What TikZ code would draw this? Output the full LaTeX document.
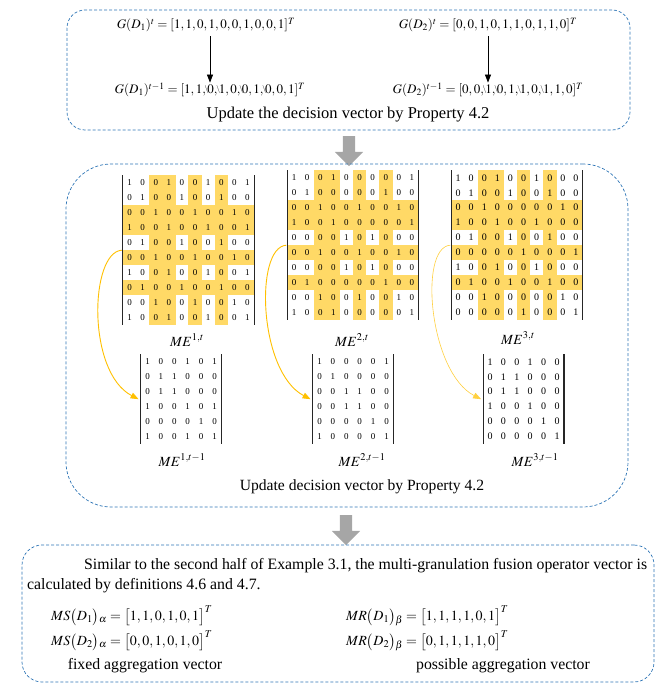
\documentclass[tikz,border=0pt]{standalone}
\usepackage{mathptmx}
\usepackage{fontspec}
\setmainfont{Liberation Serif}
\usetikzlibrary{matrix,backgrounds,arrows.meta,shapes.arrows}

\definecolor{boxblue}{RGB}{46,117,182}
\definecolor{hilite}{RGB}{255,217,102}
\definecolor{curvegold}{RGB}{255,192,0}
\definecolor{arrowgray}{RGB}{166,166,166}

% digit that changed from t to t-1
\newcommand{\chg}[1]{\makebox[0pt][l]{\kern-0.2em\raisebox{0.45ex}{$\scriptscriptstyle\backslash$}}#1}

\begin{document}
\begin{tikzpicture}[
        x=1pt, y=-1pt,
        dashbox/.style={draw=boxblue, densely dashed, line width=0.7pt},
        bodytext/.style={font=\fontsize{15.8}{20}\selectfont, inner sep=0pt},
        formula/.style={font=\fontsize{13}{15}\selectfont, inner sep=0pt},
        melabel/.style={font=\fontsize{14}{16}\selectfont, inner sep=0pt},
        bigmat/.style={matrix of nodes, inner sep=0pt, ampersand replacement=\&,
                nodes={minimum width=13.1pt, minimum height=14.9pt, inner sep=0pt,
                        font=\fontsize{9}{9}\selectfont}},
        smallmat/.style={matrix of nodes, inner sep=0pt, ampersand replacement=\&,
                nodes={minimum width=13.4pt, minimum height=14.8pt, inner sep=0pt,
                        font=\fontsize{9}{9}\selectfont}},
        bar/.style={line width=1.2pt, black!85},
        grayarrow/.style={single arrow, fill=arrowgray, draw=none, shape border rotate=270,
                minimum height=30pt, single arrow head extend=8pt, inner sep=6pt,
                single arrow head indent=0pt},
        thinarrow/.style={-{Triangle[width=6pt,length=8pt]}, line width=0.8pt},
        goldarrow/.style={curvegold, line width=0.9pt, -{Triangle[width=6pt,length=8pt]}}
    ]
    \useasboundingbox (0,0) rectangle (658,685);

    % top box
    \node[dashbox, rounded corners=18pt, minimum width=563pt, minimum height=120pt] (topbox) at (348.5,70) {};
    \node[formula] (g1t) at (206,25) {$G(D_1)^t=[1,1,0,1,0,0,1,0,0,1]^T$};
    \node[formula] (g2t) at (488,25) {$G(D_2)^t=[0,0,1,0,1,1,0,1,1,0]^T$};
    \node[formula] (g1p) at (210,90) {$G(D_1)^{t-1}=[1,1,\chg{0},\chg{1},0,\chg{0},1,\chg{0},0,1]^T$};
    \node[formula] (g2p) at (488,90) {$G(D_2)^{t-1}=[0,0,\chg{1},\chg{0},1,\chg{1},0,\chg{1},1,0]^T$};
    \draw[thinarrow, shorten <=4pt] (g1p.north |- g1t.south) -- (g1p.north);
    \draw[thinarrow, shorten <=4pt] (g2p.north |- g2t.south) -- (g2p.north);
    \node[bodytext, font=\fontsize{16.5}{20}\selectfont] (upd1) at (348,115) {Update the decision vector by Property 4.2};

    \node[grayarrow] (gap1) at (349,148) {};

    % middle box
    \node[dashbox, rounded corners=45pt, minimum width=562pt, minimum height=343pt] (midbox) at (347,335.5) {};

    \matrix (ma) [bigmat] at (188.5,250) {
        1\&0\&0\&1\&0\&0\&1\&0\&0\&1\\
        0\&1\&0\&0\&1\&0\&0\&1\&0\&0\\
        0\&0\&1\&0\&0\&1\&0\&0\&1\&0\\
        1\&0\&0\&1\&0\&0\&1\&0\&0\&1\\
        0\&1\&0\&0\&1\&0\&0\&1\&0\&0\\
        0\&0\&1\&0\&0\&1\&0\&0\&1\&0\\
        1\&0\&0\&1\&0\&0\&1\&0\&0\&1\\
        0\&1\&0\&0\&1\&0\&0\&1\&0\&0\\
        0\&0\&1\&0\&0\&1\&0\&0\&1\&0\\
        1\&0\&0\&1\&0\&0\&1\&0\&0\&1\\
    };
    \matrix (mb) [bigmat] at (353,245) {
        1\&0\&0\&1\&0\&0\&0\&0\&0\&1\\
        0\&1\&0\&0\&0\&0\&0\&1\&0\&0\\
        0\&0\&1\&0\&0\&1\&0\&0\&1\&0\\
        1\&0\&0\&1\&0\&0\&0\&0\&0\&1\\
        0\&0\&0\&0\&1\&0\&1\&0\&0\&0\\
        0\&0\&1\&0\&0\&1\&0\&0\&1\&0\\
        0\&0\&0\&0\&1\&0\&1\&0\&0\&0\\
        0\&1\&0\&0\&0\&0\&0\&1\&0\&0\\
        0\&0\&1\&0\&0\&1\&0\&0\&1\&0\\
        1\&0\&0\&1\&0\&0\&0\&0\&0\&1\\
    };
    \matrix (mc) [bigmat, nodes={font=\fontsize{10}{10}\selectfont}] at (517,245) {
        1\&0\&0\&1\&0\&0\&1\&0\&0\&0\\
        0\&1\&0\&0\&1\&0\&0\&1\&0\&0\\
        0\&0\&1\&0\&0\&0\&0\&0\&1\&0\\
        1\&0\&0\&1\&0\&0\&1\&0\&0\&0\\
        0\&1\&0\&0\&1\&0\&0\&1\&0\&0\\
        0\&0\&0\&0\&0\&1\&0\&0\&0\&1\\
        1\&0\&0\&1\&0\&0\&1\&0\&0\&0\\
        0\&1\&0\&0\&1\&0\&0\&1\&0\&0\\
        0\&0\&1\&0\&0\&0\&0\&0\&1\&0\\
        0\&0\&0\&0\&0\&1\&0\&0\&0\&1\\
    };

    % highlighted rows and columns 3,4,6,8
    \begin{scope}[on background layer]
        \foreach \m in {ma,mb,mc}{
            \foreach \k in {3,4,6,8}{
                \fill[hilite] (\m-\k-1.north west) rectangle (\m-\k-10.south east);
                \fill[hilite] (\m-1-\k.north west) rectangle (\m-10-\k.south east);
            }
        }
    \end{scope}

    \node[melabel] (la) at (187,340) {$ME^{1,t}$};
    \node[melabel] (lb) at (352,340) {$ME^{2,t}$};
    \node[melabel] (lc) at (518,338) {$ME^{3,t}$};

    \matrix (na) [smallmat] at (181,399) {
        1\&0\&0\&1\&0\&1\\
        0\&1\&1\&0\&0\&0\\
        0\&1\&1\&0\&0\&0\\
        1\&0\&0\&1\&0\&1\\
        0\&0\&0\&0\&1\&0\\
        1\&0\&0\&1\&0\&1\\
    };
    \matrix (nb) [smallmat] at (353,399) {
        1\&0\&0\&0\&0\&1\\
        0\&1\&0\&0\&0\&0\\
        0\&0\&1\&1\&0\&0\\
        0\&0\&1\&1\&0\&0\\
        0\&0\&0\&0\&1\&0\\
        1\&0\&0\&0\&0\&1\\
    };
    \matrix (nc) [smallmat, nodes={font=\fontsize{10}{10}\selectfont}] at (523.5,399) {
        1\&0\&0\&1\&0\&0\\
        0\&1\&1\&0\&0\&0\\
        0\&1\&1\&0\&0\&0\\
        1\&0\&0\&1\&0\&0\\
        0\&0\&0\&0\&1\&0\\
        0\&0\&0\&0\&0\&1\\
    };

    \foreach \m in {ma,mb,mc,na,nb,nc}{
        \draw[bar] (\m.north west) -- (\m.south west);
        \draw[bar] (\m.north east) -- (\m.south east);
    }

    \node[melabel] (ma1) at (182,460) {$ME^{1,t-1}$};
    \node[melabel] (mb1) at (362,460) {$ME^{2,t-1}$};
    \node[melabel] (mc1) at (535,460) {$ME^{3,t-1}$};

    \draw[goldarrow] ([xshift=-1pt]ma-5-1.south west) .. controls +(-32,2) and +(-52,-27) .. ([xshift=-2pt]na-3-1.south west);
    \draw[goldarrow] ([xshift=-1pt]mb-5-1.south west) .. controls +(-32,2) and +(-52,-27) .. ([xshift=-2pt]nb-3-1.south west);
    \draw[goldarrow, curvegold!75, line width=0.6pt] ([xshift=-1pt]mc-5-1.south west) .. controls +(-32,2) and +(-52,-27) .. ([xshift=-2pt]nc-3-1.south west);

    \node[bodytext, font=\fontsize{15.6}{20}\selectfont] (upd2) at (362,487) {Update decision vector by Property 4.2};

    \node[grayarrow] (gap2) at (346,527) {};

    % bottom box
    \node[dashbox, rounded corners=20pt, minimum width=632pt, minimum height=137pt] (botbox) at (338,613.5) {};
    \node[bodytext, align=left, anchor=north west] (para) at (27,558) {\hspace*{57pt}Similar to the second half of Example 3.1, the multi-granulation fusion operator vector is\\calculated by definitions 4.6 and 4.7.};
    \node[formula, font=\fontsize{14}{16}\selectfont, anchor=west] (ms1) at (51,616) {$MS\big(D_1\big){}_\alpha=\big[1,1,0,1,0,1\big]^T$};
    \node[formula, font=\fontsize{14}{16}\selectfont, anchor=west] (ms2) at (51,641) {$MS\big(D_2\big){}_\alpha=\big[0,0,1,0,1,0\big]^T$};
    \node[formula, font=\fontsize{14}{16}\selectfont, anchor=west] (mr1) at (346,616) {$MR\big(D_1\big){}_\beta=\big[1,1,1,1,0,1\big]^T$};
    \node[formula, font=\fontsize{14}{16}\selectfont, anchor=west] (mr2) at (346,641) {$MR\big(D_2\big){}_\beta=\big[0,1,1,1,1,0\big]^T$};
    \node[bodytext] (fixd) at (145,666) {fixed aggregation vector};
    \node[bodytext] (poss) at (503,666) {possible aggregation vector};
\end{tikzpicture}
\end{document}
